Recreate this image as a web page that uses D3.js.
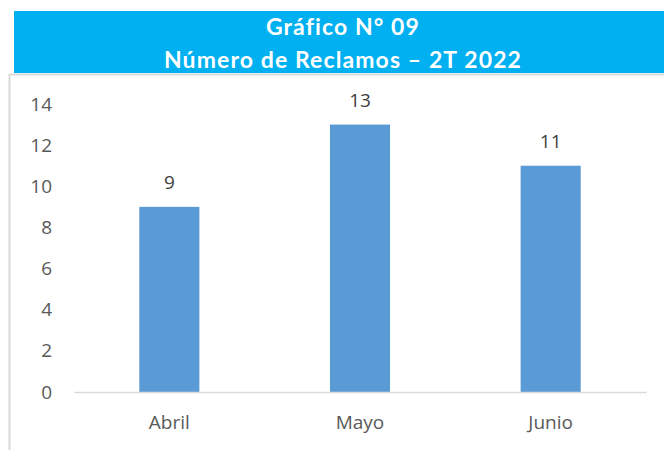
<!DOCTYPE html>
<html>
<head>
<meta charset="utf-8">
<script src="https://cdn.jsdelivr.net/npm/d3@7"></script>
<style>
  body { margin: 0; background: #fff; }
</style>
</head>
<body>
<div id="chart"></div>
<script>
const months = ['Abril', 'Mayo', 'Junio'];
const reclamos = [9, 13, 11];
const yTicks = [0, 2, 4, 6, 8, 10, 12, 14];
const titleLines = ['Gráfico N° 09', 'Número de Reclamos – 2T 2022'];

const width = 664;
const height = 450;

const svg = d3.select('#chart')
    .append('svg')
    .attr('width', width)
    .attr('height', height);

// cadre gris du graphique
svg.append('rect')
    .attr('x', 9.5)
    .attr('y', 74.5)
    .attr('width', 700)
    .attr('height', 400)
    .attr('fill', '#fff')
    .attr('stroke', '#d9d9d9')
    .attr('stroke-width', 2);

// bandeau du titre
svg.append('rect')
    .attr('x', 14)
    .attr('y', 11)
    .attr('width', width - 14)
    .attr('height', 62)
    .attr('fill', '#00b0f0');

svg.selectAll('text.title')
    .data(titleLines)
    .enter()
    .append('text')
    .classed('title', true)
    .text(d => d)
    .attr('x', 343)
    .attr('y', (d, i) => 35 + i * 33)
    .attr('text-anchor', 'middle')
    .attr('fill', '#fff')
    .attr('font-family', 'Lato, sans-serif')
    .attr('font-weight', 'bold')
    .attr('font-size', '23px')
    .attr('letter-spacing', '1.1px');

const x = d3.scaleBand()
    .domain(months)
    .range([74, 646])
    .paddingInner(0.685)
    .paddingOuter(0.3425);

const y = d3.scaleLinear()
    .domain([0, 14])
    .range([392, 104]);

// barres
svg.selectAll('rect.bar')
    .data(reclamos)
    .enter()
    .append('rect')
    .classed('bar', true)
    .attr('x', (d, i) => x(months[i]))
    .attr('y', d => y(d))
    .attr('width', x.bandwidth())
    .attr('height', d => y(0) - y(d))
    .attr('fill', '#5b9bd5');

// axe des x
const xAxis = svg.append('g')
    .attr('transform', `translate(0,${y(0)})`)
    .call(d3.axisBottom(x).tickSize(0).tickPadding(24));
xAxis.select('.domain').attr('stroke', '#d9d9d9').attr('stroke-width', 1.5);
xAxis.selectAll('text')
    .attr('fill', '#595959')
    .attr('font-family', '"Open Sans", sans-serif')
    .attr('font-size', '19px');

// axe des y
const yAxis = svg.append('g')
    .attr('transform', 'translate(52,0)')
    .call(d3.axisLeft(y).tickValues(yTicks).tickSize(0).tickPadding(0));
yAxis.select('.domain').remove();
yAxis.selectAll('text')
    .attr('fill', '#595959')
    .attr('font-family', '"Open Sans", sans-serif')
    .attr('font-size', '19px');

// étiquettes de valeurs
svg.selectAll('text.value')
    .data(reclamos)
    .enter()
    .append('text')
    .classed('value', true)
    .text(d => d)
    .attr('x', (d, i) => x(months[i]) + x.bandwidth() / 2)
    .attr('y', d => y(d) - 18)
    .attr('text-anchor', 'middle')
    .attr('fill', '#404040')
    .attr('font-family', '"Open Sans", sans-serif')
    .attr('font-size', '19px');
</script>
</body>
</html>
